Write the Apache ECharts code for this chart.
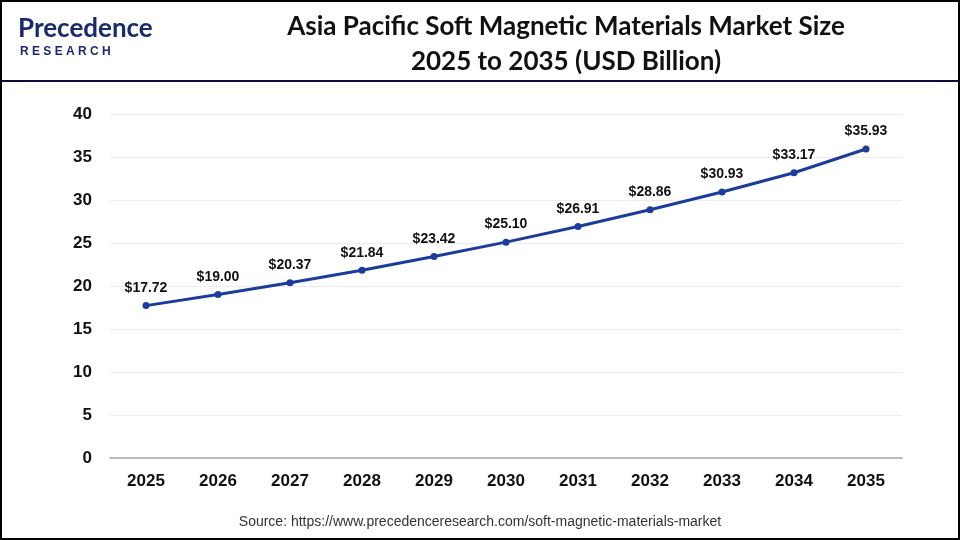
<!DOCTYPE html>
<html lang="en">
<head>
<meta charset="utf-8">
<title>Asia Pacific Soft Magnetic Materials Market Size</title>
<script src="https://cdn.jsdelivr.net/npm/echarts@6/dist/echarts.min.js"></script>
<style>
  html, body { margin: 0; padding: 0; background: #fff; }
  #main { width: 960px; height: 540px; }
</style>
</head>
<body>
<div id="main"></div>
<script>
// chart data
var years = ['2025', '2026', '2027', '2028', '2029', '2030', '2031', '2032', '2033', '2034', '2035'];
var marketSize = [17.72, 19.00, 20.37, 21.84, 23.42, 25.10, 26.91, 28.86, 30.93, 33.17, 35.93];
var titleLines = ['Asia Pacific Soft Magnetic Materials Market Size', '2025 to 2035 (USD Billion)'];
var sourceText = 'Source: https://www.precedenceresearch.com/soft-magnetic-materials-market';

var chart = echarts.init(document.getElementById('main'));

var option = {
  backgroundColor: '#fff',
  animation: false,
  title: {
    text: titleLines.join('\n'),
    left: 561,
    top: 4,
    textAlign: 'center',
    textStyle: {
      fontFamily: 'Lato',
      fontWeight: 'bold',
      fontSize: 26,
      lineHeight: 35,
      color: '#111'
    }
  },
  grid: { left: 110, right: 58, top: 114, bottom: 82 },
  xAxis: {
    type: 'category',
    data: years,
    boundaryGap: true,
    axisLine: { lineStyle: { color: '#bbb', width: 2 } },
    axisTick: { show: false },
    axisLabel: {
      margin: 15,
      fontFamily: 'Liberation Sans',
      fontWeight: 'bold',
      fontSize: 17,
      color: '#111'
    }
  },
  yAxis: {
    type: 'value',
    min: 0,
    max: 40,
    interval: 5,
    axisLine: { show: false },
    axisTick: { show: false },
    splitLine: { lineStyle: { color: '#ececec', width: 1 } },
    axisLabel: {
      margin: 18,
      fontFamily: 'Liberation Sans',
      fontWeight: 'bold',
      fontSize: 17,
      color: '#111'
    }
  },
  series: [{
    type: 'line',
    data: marketSize,
    symbol: 'circle',
    symbolSize: 7,
    lineStyle: { color: '#1c3c9c', width: 3 },
    itemStyle: { color: '#1c3c9c' },
    label: {
      show: true,
      position: 'top',
      distance: 7,
      fontFamily: 'Liberation Sans',
      fontWeight: 'bold',
      fontSize: 14,
      color: '#111',
      formatter: function (p) { return '$' + p.value.toFixed(2); }
    }
  }],
  graphic: [
    // outer frame
    { type: 'rect', shape: { x: 1, y: 1, width: 958, height: 538 }, style: { fill: 'none', stroke: '#000', lineWidth: 2 }, z: 100 },
    // header separator
    { type: 'line', shape: { x1: 0, y1: 81, x2: 960, y2: 81 }, style: { stroke: '#0b0b3d', lineWidth: 2 } },
    // logo
    { type: 'text', left: 18, top: 16, style: { text: 'Precedence', fontFamily: 'Lato', fontWeight: 'bold', fontSize: 26, fill: '#1b2a6e' } },
    { type: 'text', left: 20, top: 46, style: { text: 'R E S E A R C H', fontFamily: 'Liberation Sans', fontWeight: 'bold', fontSize: 12, fill: '#1b2a6e' } },
    // source
    { type: 'text', left: 'center', top: 515, style: { text: sourceText, fontFamily: 'Liberation Sans', fontSize: 14, fill: '#333' } }
  ]
};

chart.setOption(option);
</script>
</body>
</html>
